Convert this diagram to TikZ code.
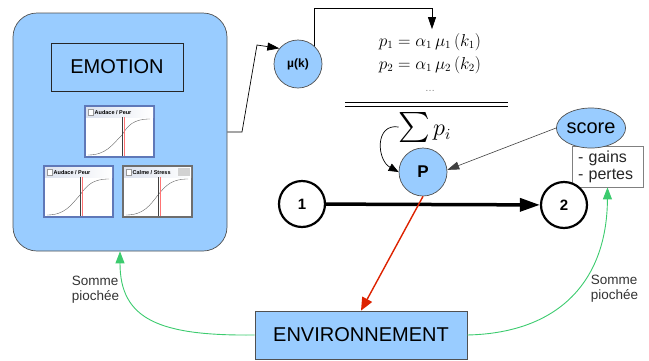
\documentclass[tikz,border=0pt]{standalone}
\usepackage{fontspec}
\usepackage{graphicx}
\setmainfont{Liberation Sans}
\usetikzlibrary{arrows.meta,shapes.geometric,calc}

\definecolor{boxblue}{HTML}{99CCFF}
\definecolor{edgegrey}{HTML}{505050}
\definecolor{flowgreen}{HTML}{3CCB6E}
\definecolor{flowred}{HTML}{DD2200}
\definecolor{winblue}{HTML}{5F78B8}
\definecolor{wingrey}{HTML}{6E6E6E}
\definecolor{titlegrey}{HTML}{DCE2EE}
\definecolor{labelgrey}{HTML}{333333}

% small sigmoid window: x, y, title, frame colour, grey line offset, red line width, node name
\newcommand\miniwin[7]{%
  \begin{scope}[shift={(#1,#2)}]
    \fill[#4] (0,0) rectangle (71,53);
    \fill[white] (2,2) rectangle (69,51);
    \shade[left color=titlegrey, right color=white] (2,2) rectangle (69,12);
    \draw[gray!80, fill=white, line width=0.4pt] (4,4) rectangle (9,10);
    \node[anchor=west, inner sep=0, font=\fontsize{5.5}{6}\selectfont\bfseries] (#7) at (10.5,7.2) {#3};
    \draw[gray!70!black, line width=0.35pt]
      (4,50) .. controls (22,50) and (28,40) .. (#5,30)
      .. controls (44,20) and (50,14) .. (66,14);
    \draw[gray!50!black, line width=0.8pt] (#5,12) -- (#5,51);
    \draw[red!55, line width=#6] ($(#5,12)+(2.4,0)$) -- ($(#5,51)+(2.4,0)$);
  \end{scope}}

\tikzset{
  bluebox/.style={draw=edgegrey, fill=boxblue, line width=0.7pt, inner sep=0},
  bluedisc/.style={circle, draw=edgegrey, fill=boxblue, line width=0.7pt, inner sep=0},
  statedisc/.style={circle, draw=black, fill=white, line width=2.2pt, inner sep=0,
    minimum size=46pt, font=\fontsize{15}{15}\selectfont\bfseries},
  thinline/.style={draw=black, line width=0.7pt},
  thintip/.style={-{Triangle[length=12pt,width=8pt]}},
  greenflow/.style={draw=flowgreen, line width=0.9pt, -{Triangle[length=12pt,width=9pt]}, fill=none},
  sidelabel/.style={align=left, text=labelgrey, inner sep=0,
    font=\fontsize{13.5}{15}\selectfont},
  formula/.style={inner sep=0, font=\fontsize{16}{18}\selectfont},
}

\begin{document}
\begin{tikzpicture}[x=1pt, y=-1pt]
\useasboundingbox (0,0) rectangle (649,360);

% EMOTION module with its three sigmoid windows
\node[bluebox, rounded corners=24pt, minimum width=214pt, minimum height=238pt] (emo) at (120,132) {};
\node[bluebox, draw=black!85, minimum width=132pt, minimum height=48pt,
      font=\fontsize{20}{20}\selectfont] (emotitle) at (117,67) {EMOTION};
\miniwin{84}{105}{Audace / Peur}{winblue}{38}{0.8pt}{wintop}
\miniwin{43}{165}{Audace / Peur}{winblue}{37}{0.8pt}{winleft}
\miniwin{122}{165}{Calme / Stress}{wingrey}{36}{1.8pt}{winright}
\fill[gray!35] (178,168) rectangle (190,176);

% membership node and formulas
\node[bluedisc, minimum size=48pt, font=\fontsize{12}{12}\selectfont\bfseries] (mu) at (298,64) {µ(k)};
\node[formula] (f1) at (430,42) {$p_1 = \alpha_1\, \mu_1\,(k_1)$};
\node[formula] (f2) at (430,65) {$p_2 = \alpha_1\, \mu_2\,(k_2)$};
\node[formula, text=gray, font=\fontsize{10}{10}\selectfont] (dots) at (430,91) {\ldots};
\coordinate (rulel) at (345,102);
\coordinate (ruler) at (508,102);
\draw[line width=0.8pt] (rulel) -- (ruler);
\draw[line width=0.8pt] ($(rulel)+(0,4)$) -- ($(ruler)+(0,4)$);
\node[formula] (sum) at (425,127)
  {\raisebox{-4pt}{\scalebox{3}{$\sum$}}\,\scalebox{1.4}{$p_i$}};

% decision node, score and states
\node[bluedisc, minimum size=48pt, font=\fontsize{17}{17}\selectfont\bfseries] (P) at (423,172) {P};
\node[draw=gray, fill=white, line width=0.7pt, text width=59pt, minimum height=41pt,
      inner xsep=6pt, inner ysep=0pt, align=left, font=\fontsize{16}{17}\selectfont,
      text=black!85] (gains) at (607.5,166.5)
      {- gains\\- pertes};
\node[ellipse, bluebox, minimum width=66pt, minimum height=40pt,
      font=\fontsize{20}{20}\selectfont] (score) at (591,128) {score};
\node[statedisc] (n1) at (302,204) {1};
\node[statedisc] (n2) at (564,205) {2};

% environment
\node[bluebox, minimum width=212pt, minimum height=48pt,
      font=\fontsize{20}{20}\selectfont] (env) at (361,335) {ENVIRONNEMENT};
\node[sidelabel] (lsum) at (95.5,290) {Somme\\piochée};
\node[sidelabel] (rsum) at (614.5,289) {Somme\\piochée};

% connectors
\coordinate (bendA) at (242,132);
\coordinate (bendB) at (257,45);
\draw[thinline, thintip] (emo.east) -- (bendA) -- (bendB) -- (mu.140);
\draw[thinline, thintip] (mu.48) |- ($(f1.north)+(2,-25)$) -- ($(f1.north)+(2,-4)$);
\draw[thinline, -{Triangle[length=10pt,width=8pt]}] (sum.west)
  .. controls +(-24,-4) and +(-22,-12) .. (P.west);
\draw[draw=black!75, line width=0.6pt, -{Triangle[length=12pt,width=8pt]}] (score.west) -- (P.5);
\draw[line width=3.5pt, -{Triangle[length=20pt,width=13pt]}] (n1) -- (n2);
\draw[flowred, line width=1.4pt, -{Triangle[length=13pt,width=11pt]}] (P.south) -- (env.north);
\draw[greenflow] (env.west) .. controls (160,336) and (120,320) .. (emo.south);
\draw[greenflow] (env.east) .. controls (560,333) and (607,280) .. (gains.south);
\end{tikzpicture}
\end{document}
